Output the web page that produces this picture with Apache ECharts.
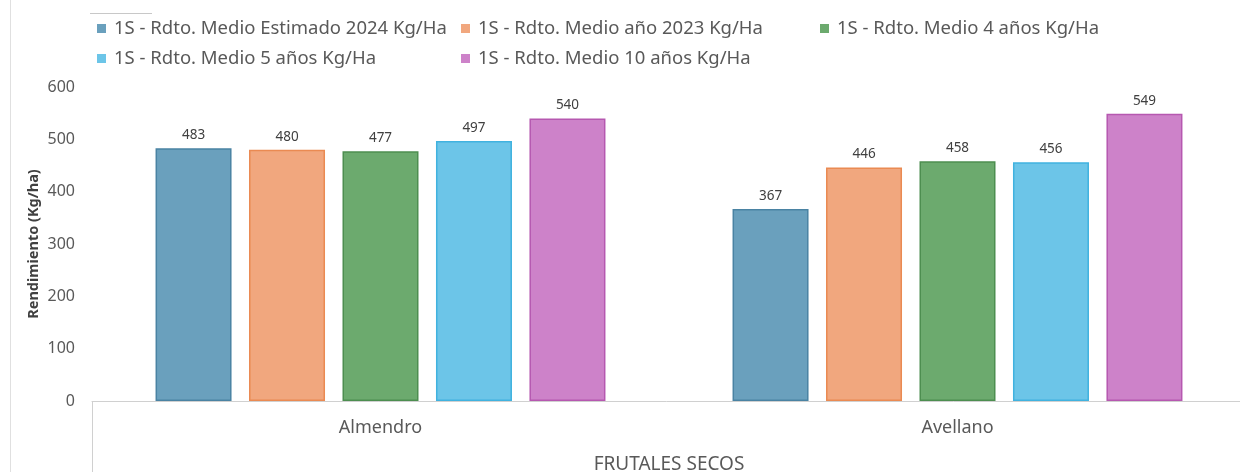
<!DOCTYPE html>
<html>
<head>
<meta charset="utf-8">
<script src="https://cdn.jsdelivr.net/npm/echarts@6/dist/echarts.min.js"></script>
<style>
  html, body { margin: 0; padding: 0; background: #fff; }
  #chart { width: 1240px; height: 472px; }
</style>
</head>
<body>
<div id="chart"></div>
<script>
  // datos
  var categorias = ['Almendro', 'Avellano'];
  var series = [
    '1S - Rdto. Medio Estimado 2024 Kg/Ha',
    '1S - Rdto. Medio año 2023 Kg/Ha',
    '1S - Rdto. Medio 4 años Kg/Ha',
    '1S - Rdto. Medio 5 años Kg/Ha',
    '1S - Rdto. Medio 10 años Kg/Ha'
  ];
  var estimado2024 = [483, 367];
  var anio2023 = [480, 446];
  var medio4 = [477, 458];
  var medio5 = [497, 456];
  var medio10 = [540, 549];
  var ticksY = [0, 100, 200, 300, 400, 500, 600];

  var valores = [estimado2024, anio2023, medio4, medio5, medio10];
  var colores = ['#6aa0bd', '#f1a77e', '#6caa6e', '#6cc5e8', '#cd82c9'];
  var bordes = ['#4a83a3', '#ea8a52', '#4d8e50', '#40b2df', '#b658b0'];
  // posicion de cada entrada de la leyenda (2 filas)
  var leyendaPos = [[97, 19], [461, 19], [820, 19], [97, 49], [461, 49]];

  var leyendas = series.map(function (s, i) {
    return {
      left: leyendaPos[i][0],
      top: leyendaPos[i][1],
      padding: 0,
      icon: 'rect',
      itemWidth: 9,
      itemHeight: 9,
      itemStyle: { borderWidth: 0 },
      textStyle: {
        fontSize: 18.5,
        color: '#595959',
        padding: [0, 0, 0, 3]
      },
      data: [s]
    };
  });

  var myChart = echarts.init(document.getElementById('chart'));
  myChart.setOption({
    animation: false,
    textStyle: { fontFamily: 'Noto Sans' },
    legend: leyendas,
    grid: {
      left: 92,
      right: -6,
      top: 87,
      bottom: 71,
      outerBoundsMode: 'none',
      containLabel: false
    },
    xAxis: {
      type: 'category',
      data: categorias,
      name: 'FRUTALES SECOS',
      nameLocation: 'middle',
      nameGap: 54,
      nameTextStyle: { fontSize: 19, color: '#595959' },
      axisLine: { lineStyle: { color: '#d0d0d0', width: 1 } },
      axisTick: { show: false },
      axisLabel: { fontSize: 18, color: '#595959', margin: 18 }
    },
    yAxis: {
      type: 'value',
      min: ticksY[0],
      max: ticksY[ticksY.length - 1],
      interval: 100,
      name: 'Rendimiento (Kg/ha)',
      nameLocation: 'middle',
      nameGap: 51,
      nameMoveOverlap: false,
      nameTextStyle: { fontSize: 14.5, fontWeight: 'bold', color: '#404040' },
      splitLine: { show: false },
      axisLine: { show: false },
      axisLabel: { fontSize: 16, color: '#595959', margin: 17 }
    },
    graphic: [
      { type: 'line', shape: { x1: 10.5, y1: 0, x2: 10.5, y2: 472 }, style: { stroke: '#e0e0e0', lineWidth: 1 } },
      { type: 'line', shape: { x1: 90, y1: 13.5, x2: 152, y2: 13.5 }, style: { stroke: '#c8c8c8', lineWidth: 1 } },
      { type: 'line', shape: { x1: 92.5, y1: 401, x2: 92.5, y2: 472 }, style: { stroke: '#d0d0d0', lineWidth: 1 } }
    ],
    series: valores.map(function (v, i) {
      return {
        name: series[i],
        type: 'bar',
        data: v,
        barWidth: 76,
        barGap: '23%',
        itemStyle: {
          color: colores[i],
          borderColor: bordes[i],
          borderWidth: 1.5
        },
        label: {
          show: true,
          position: 'top',
          distance: 6,
          fontSize: 13.5,
          color: '#404040'
        }
      };
    })
  });
</script>
</body>
</html>
